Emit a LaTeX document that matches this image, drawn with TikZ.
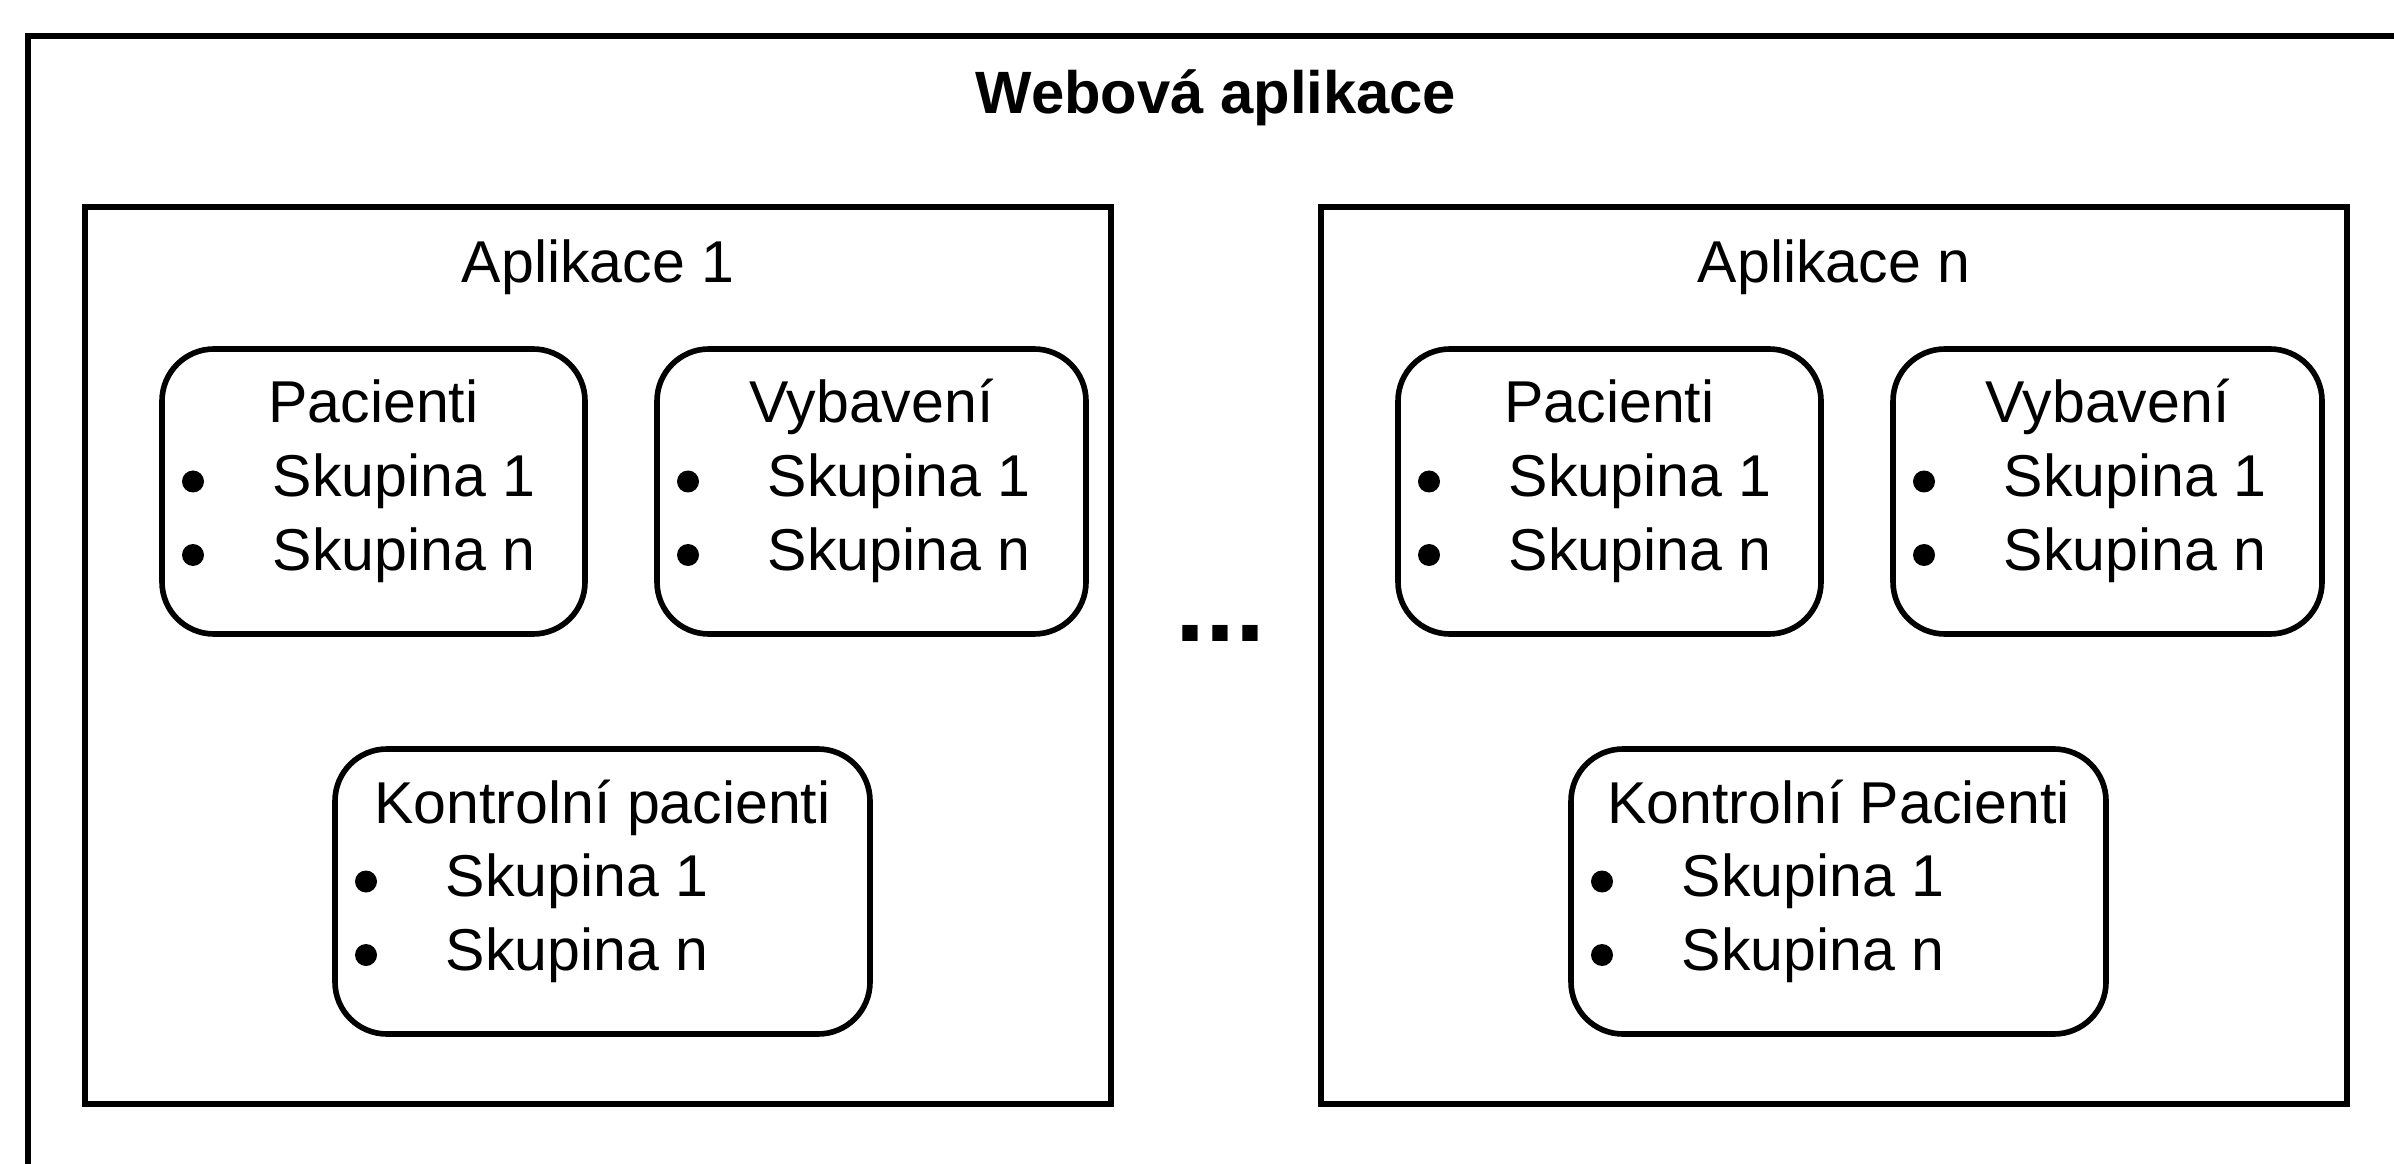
\documentclass[tikz,border=0pt]{standalone}
\usepackage{fontspec}
\setmainfont{Liberation Sans}

\tikzset{
	box/.style={draw, line width=1.6pt, inner sep=0pt, outer sep=0pt},
	appbox/.style={box, minimum width=10.26cm, minimum height=8.97cm},
	grpbox/.style={box, rounded corners=0.52cm, minimum height=2.85cm},
	txt/.style={inner sep=0pt, anchor=base, font=\fontsize{16.8}{20}\selectfont},
	itemtxt/.style={txt, anchor=base west},
	bullet/.style={circle, fill, inner sep=0pt, minimum size=0.22cm},
}

% rounded group with its title and two items
\newcommand{\grp}[4]{%
	\node[grpbox, minimum width=#3] (#1) at (#2) {};
	\node[txt] (#1-t) at ([yshift=-0.74cm]#1.north) {#4};
	\foreach \s [count=\i] in {1,n} {
		\node[itemtxt] (#1-s\i) at ([xshift=1.1cm, yshift=-0.74cm-0.735cm*\i]#1.north west) {Skupina \s};
		\node[bullet] (#1-b\i) at ([xshift=-0.79cm, yshift=0.15cm]#1-s\i.base west) {};
	}
}

\begin{document}
\begin{tikzpicture}
	\useasboundingbox (0,0) rectangle (23.94,11.63);
	\clip (0,0) rectangle (23.94,11.63);
	\node[box, minimum width=23.76cm, minimum height=11.6cm, anchor=north west] (web) at (0.28,11.27) {};
	\node[txt, font=\fontsize{17}{20}\selectfont\bfseries] (title) at ([yshift=-0.78cm]web.north) {Webová aplikace};
	\foreach \a/\x/\k in {1/5.98/pacienti, n/18.34/Pacienti} {
		\node[appbox] (app\a) at (\x,5.075) {};
		\node[txt] (app\a-t) at ([yshift=-0.76cm]app\a.north) {Aplikace \a};
		\grp{pac\a}{[xshift=2.885cm, yshift=-2.845cm]app\a.north west}{4.23cm}{Pacienti}
		\grp{vyb\a}{[xshift=7.865cm, yshift=-2.845cm]app\a.north west}{4.29cm}{Vybavení}
		\grp{kon\a}{[xshift=5.175cm, yshift=-6.845cm]app\a.north west}{5.35cm}{Kontrolní \k}
	}
	\node[txt, font=\fontsize{30.7}{32}\selectfont\bfseries] (dots) at (12.2,5.22) {...};
\end{tikzpicture}
\end{document}
